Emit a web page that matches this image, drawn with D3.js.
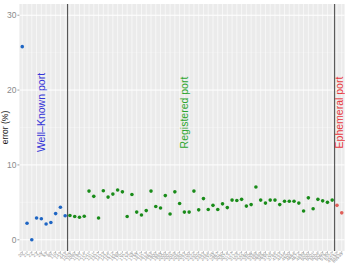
<!DOCTYPE html>
<html>
<head>
<meta charset="UTF-8">
<script src="https://d3js.org/d3.v7.min.js"></script>
<style>
  body { margin: 0; background: #fff; }
  svg text { font-family: "Liberation Sans", Arial, sans-serif; }
</style>
</head>
<body>
<svg id="chart" width="345" height="264"></svg>
<script>
// ports on the x axis, grouped by range
const wellKnownPorts = ['20', '21', '22', '23', '25', '53', '80', '110', '143', '443'];
const registeredPorts = ['1025', '1080', '1194', '1214', '1241', '1311', '1337', '1433', '1434', '1512',
  '1589', '1701', '1723', '1725', '1755', '1812', '1813', '1863', '1900', '1985',
  '2000', '2002', '2049', '2082', '2083', '2100', '2222', '2302', '2483', '2484',
  '2745', '2967', '3050', '3074', '3127', '3128', '3222', '3260', '3306', '3389',
  '3689', '3690', '3724', '3784', '4333', '4444', '4500', '4664', '4672', '4899',
  '5000', '5001', '5004', '5060', '5190', '5222'];
const ephemeralPorts = ['49152', '65535'];

// error (%)
const wellKnownErr = [25.8, 2.2, 0, 2.9, 2.8, 2.1, 2.3, 3.5, 4.35, 3.2];
const registeredErr = [3.25, 3.1, 3.0, 3.15, 6.5, 5.8, 2.9, 6.55, 5.7, 6.1,
  6.65, 6.4, 3.1, 6.05, 3.7, 3.3, 3.9, 6.5, 4.45, 4.25,
  5.9, 3.45, 6.4, 4.85, 3.7, 3.7, 6.5, 4.0, 5.5, 4.05,
  4.6, 4.05, 4.8, 4.3, 5.3, 5.25, 5.4, 4.5, 4.7, 7.05,
  5.3, 4.9, 5.3, 5.3, 4.7, 5.15, 5.15, 5.15, 4.9, 3.85,
  5.6, 4.15, 5.4, 5.2, 5.0, 5.3];
const ephemeralErr = [4.6, 3.6];

const yTicks = [0, 10, 20, 30];
const yMinor = [5, 15, 25];

const groups = [
  { name: 'Well\u2013Known port', ports: wellKnownPorts, err: wellKnownErr, point: '#1f66c4', text: '#3535d8', at: 4 },
  { name: 'Registered port', ports: registeredPorts, err: registeredErr, point: '#1a8c1a', text: '#2ea62e', at: 24 },
  { name: 'Ephemeral port', ports: ephemeralPorts, err: ephemeralErr, point: '#e0605a', text: '#e8383d', at: 0.5 }
];

const panel = { left: 19.4, right: 344.6, top: 4, bottom: 251 };

const rows = [];
groups.forEach(g => g.ports.forEach((p, i) => rows.push({ port: p, err: g.err[i], group: g })));

const svg = d3.select('#chart');

const x = d3.scalePoint()
  .domain(rows.map(d => d.port))
  .range([panel.left, panel.right])
  .padding(0.6);

const y = d3.scaleLinear()
  .domain([-1.5, 31.5])
  .range([panel.bottom, panel.top]);

// panel
svg.append('rect')
  .attr('x', panel.left).attr('y', panel.top)
  .attr('width', panel.right - panel.left).attr('height', panel.bottom - panel.top)
  .attr('fill', '#ebebeb');

const grid = svg.append('g');
grid.selectAll('.minor')
  .data(yMinor).enter().append('line')
  .attr('x1', panel.left).attr('x2', panel.right)
  .attr('y1', d => y(d)).attr('y2', d => y(d))
  .attr('stroke', '#f6f6f6').attr('stroke-width', 0.5);
grid.selectAll('.major')
  .data(yTicks).enter().append('line')
  .attr('x1', panel.left).attr('x2', panel.right)
  .attr('y1', d => y(d)).attr('y2', d => y(d))
  .attr('stroke', '#fff').attr('stroke-width', 1);
grid.selectAll('.vgrid')
  .data(x.domain()).enter().append('line')
  .attr('x1', d => x(d)).attr('x2', d => x(d))
  .attr('y1', panel.top).attr('y2', panel.bottom)
  .attr('stroke', '#fff').attr('stroke-width', 0.6);

// group separators
const sepIdx = [wellKnownPorts.length, wellKnownPorts.length + registeredPorts.length];
svg.selectAll('.sep')
  .data(sepIdx).enter().append('line')
  .attr('x1', d => (x(rows[d - 1].port) + x(rows[d].port)) / 2)
  .attr('x2', d => (x(rows[d - 1].port) + x(rows[d].port)) / 2)
  .attr('y1', panel.top).attr('y2', panel.bottom)
  .attr('stroke', '#555').attr('stroke-width', 1.1);

// points
svg.selectAll('.pt')
  .data(rows).enter().append('circle')
  .attr('cx', d => x(d.port))
  .attr('cy', d => y(d.err))
  .attr('r', 1.8)
  .attr('fill', d => d.group.point);

// group labels
const labelY = 17;
svg.selectAll('.glabel')
  .data(groups).enter().append('text')
  .attr('transform', g => {
    const i = Math.floor(g.at), f = g.at - i;
    const cx = x(g.ports[i]) + f * x.step();
    return `translate(${cx},${y(labelY)}) rotate(-90)`;
  })
  .attr('dy', '0.35em')
  .attr('text-anchor', 'middle')
  .attr('font-size', 10.5)
  .attr('fill', g => g.text)
  .text(g => g.name);

// y axis
const yAxis = svg.append('g');
yAxis.selectAll('.tick')
  .data(yTicks).enter().append('line')
  .attr('x1', panel.left - 2).attr('x2', panel.left)
  .attr('y1', d => y(d)).attr('y2', d => y(d))
  .attr('stroke', '#777').attr('stroke-width', 0.7);
yAxis.selectAll('.lbl')
  .data(yTicks).enter().append('text')
  .attr('x', panel.left - 3)
  .attr('y', d => y(d))
  .attr('dy', '0.35em')
  .attr('text-anchor', 'end')
  .attr('font-size', 8.5)
  .attr('fill', '#8a8a8a')
  .text(d => d);

svg.append('text')
  .attr('transform', `translate(8,${(panel.top + panel.bottom) / 2}) rotate(-90)`)
  .attr('text-anchor', 'middle')
  .attr('font-size', 8.5)
  .attr('fill', '#222')
  .text('error (%)');

// x axis (tiny rotated port labels)
const xAxis = svg.append('g');
xAxis.selectAll('.xt')
  .data(x.domain()).enter().append('line')
  .attr('x1', d => x(d)).attr('x2', d => x(d))
  .attr('y1', panel.bottom).attr('y2', panel.bottom + 2)
  .attr('stroke', '#888').attr('stroke-width', 0.5);
xAxis.selectAll('.xl')
  .data(x.domain()).enter().append('text')
  .attr('transform', d => `translate(${x(d) + 1.4},${panel.bottom + 3}) rotate(-45)`)
  .attr('text-anchor', 'end')
  .attr('font-size', 4.6)
  .attr('fill', '#8c8c8c')
  .text(d => d);
</script>
</body>
</html>
